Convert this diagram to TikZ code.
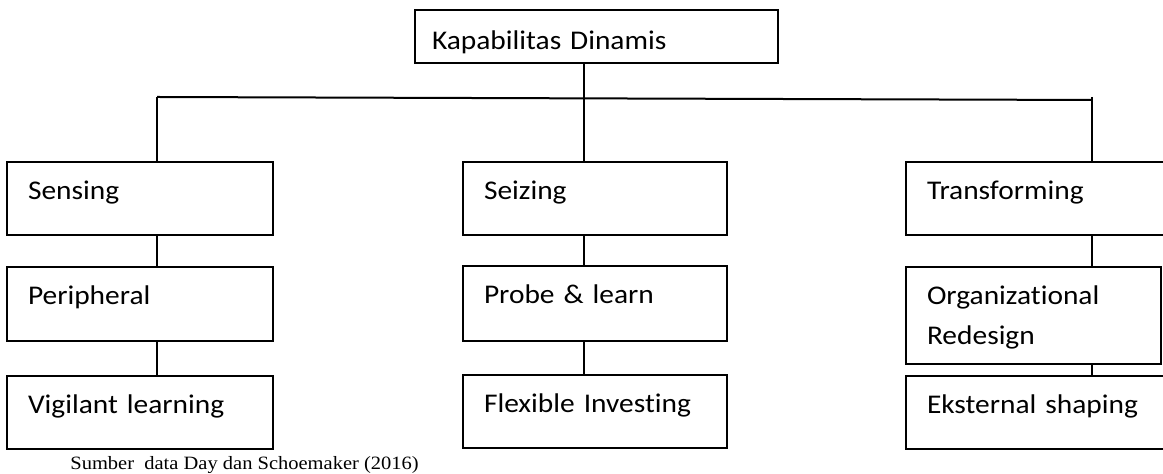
\documentclass[tikz,border=0pt]{standalone}
\usepackage{fontspec}
\newfontfamily\calfont[FakeStretch=1.09, Ligatures=NoCommon]{Carlito}
\newfontfamily\srcfont[FakeStretch=1.09]{Liberation Serif}
\usetikzlibrary{positioning}

\begin{document}
\begin{tikzpicture}[
	box/.style={draw, line width=1pt, rectangle, inner sep=0pt, outer sep=0pt, align=left,
		font=\calfont\fontsize{13.5pt}{20pt}\selectfont, text height=19pt},
	col/.style={box, minimum width=#1, text width=#1-21pt},
	link/.style={line width=0.8pt}]
	\useasboundingbox (0,0) rectangle (581.5pt,-237pt);

	\node[box, anchor=north west, minimum width=181.5pt, text width=164.5pt, text height=20pt, text depth=6.5pt] (kd) at (207.5pt,-5pt) {Kapabilitas Dinamis};

	\node[col=133pt, anchor=north west, text depth=17.5pt] (sense) at (3.5pt,-81pt) {Sensing};
	\node[col=132pt, anchor=north west, text depth=17.5pt] (seize) at (231.5pt,-81pt) {Seizing};
	\node[col=132pt, anchor=north west, text depth=17.5pt] (trans) at (453pt,-81pt) {Transforming};

	\node[col=133pt, below=16pt of sense, text depth=18pt] (peri) {Peripheral};
	\node[col=132pt, below=15.5pt of seize, text depth=18.5pt] (probe) {Probe \& learn};
	\node[col=127.5pt, below=16pt of trans.south west, anchor=north west, text depth=29.5pt] (orgre) {Organizational\\Redesign};

	\node[col=133pt, below=17.5pt of peri, text depth=17.5pt] (vigil) {Vigilant learning};
	\node[col=132pt, below=17pt of probe, text depth=17.5pt] (flex) {Flexible Investing};
	\node[col=132pt, below=6pt of orgre.south west, anchor=north west, text depth=17.5pt] (ekst) {Eksternal shaping};

	\node[anchor=base west, inner sep=0pt, font=\srcfont\fontsize{9.4pt}{11pt}\selectfont] (src) at (35pt,-235pt) {Sumber\ \ data Day dan Schoemaker (2016)};

	\coordinate (busl) at (78.5pt,-48.5pt);
	\coordinate (busr) at (546pt,-50pt);
	\coordinate (mid) at (292pt,0pt);

	\draw[link, line width=1pt] (busl) -- (busr); % bus
	\draw[link] (kd.south -| mid) -- (seize.north -| mid);
	\draw[link] (busl) -- (busl |- sense.north);
	\draw[link] ([yshift=1.5pt]busr) -- (busr |- trans.north);

	\draw[link] (sense.south -| busl) -- (peri.north -| busl);
	\draw[link] (peri.south -| busl) -- (vigil.north -| busl);
	\draw[link] (seize.south -| mid) -- (probe.north -| mid);
	\draw[link] (probe.south -| mid) -- (flex.north -| mid);
	\draw[link] (trans.south -| busr) -- (orgre.north -| busr);
	\draw[link] (orgre.south -| busr) -- (ekst.north -| busr);
\end{tikzpicture}
\end{document}
